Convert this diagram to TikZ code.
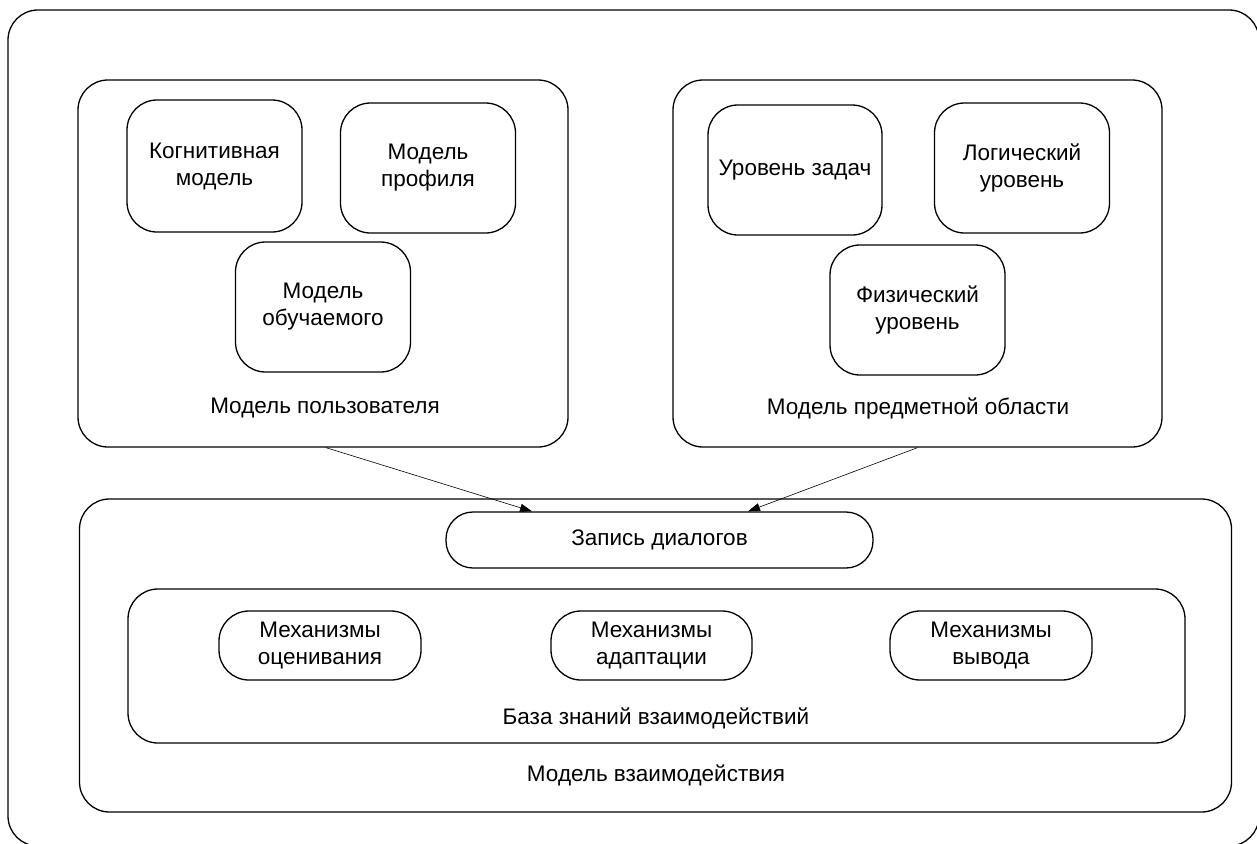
\documentclass[tikz,border=0pt]{standalone}
\usepackage{fontspec}
\setmainfont{Liberation Sans}
\usetikzlibrary{arrows.meta,calc}
\begin{document}
\begin{tikzpicture}[x=1pt,y=-1pt,
  rbox/.style={draw=black, line width=1.3pt, rounded corners=30pt, inner sep=0pt, align=center,
    font=\fontsize{22.5}{27}\selectfont},
  lbl/.style={inner sep=0pt, font=\fontsize{22.5}{27}\selectfont},
  conn/.style={draw=black, line width=0.6pt, -{Triangle[length=12pt,width=8pt]}}]
\clip (0,0) rectangle (1257,843);
\fill[white] (0,0) rectangle (1257,843);
% outer frame
\node[rbox, minimum width=1251pt, minimum height=836pt] (outer) at (633.5,428) {};
% user model
\node[rbox, minimum width=490pt, minimum height=367pt] (um) at (323,263.5) {};
\node[rbox, minimum width=175pt, minimum height=132pt] (kog) at (214.5,166) {Когнитивная\\модель};
\node[rbox, minimum width=175pt, minimum height=130pt] (prof) at (428,168) {Модель\\профиля};
\node[rbox, minimum width=175pt, minimum height=130pt] (obu) at (323,307) {Модель\\обучаемого};
\node[lbl] (uml) at (325,408) {Модель пользователя};
% domain model
\node[rbox, minimum width=489pt, minimum height=367pt] (dm) at (917.5,263.5) {};
\node[rbox, minimum width=174pt, minimum height=130pt] (task) at (795,170) {Уровень задач};
\node[rbox, minimum width=175pt, minimum height=130pt] (logic) at (1022,168) {Логический\\уровень};
\node[rbox, minimum width=175pt, minimum height=130pt] (phys) at (917.5,310) {Физический\\уровень};
\node[lbl] (dml) at (918,408) {Модель предметной области};
% interaction model
\node[rbox, minimum width=1152pt, minimum height=313pt] (im) at (655.5,655.5) {};
\node[rbox, rounded corners=27pt, minimum width=427pt, minimum height=56pt] (zap) at (659.5,540) {Запись диалогов};
\node[rbox, minimum width=1057pt, minimum height=154pt] (kb) at (656.5,666) {};
\node[rbox, rounded corners=30pt, minimum width=202pt, minimum height=69pt] (m1) at (320,645.5) {Механизмы\\оценивания};
\node[rbox, rounded corners=30pt, minimum width=201pt, minimum height=69pt] (m2) at (651.5,645.5) {Механизмы\\адаптации};
\node[rbox, rounded corners=30pt, minimum width=202pt, minimum height=69pt] (m3) at (991,645.5) {Механизмы\\вывода};
\node[lbl] (kbl) at (656,718) {База знаний взаимодействий};
\node[lbl] (iml) at (656,775) {Модель взаимодействия};
% connectors
\draw[conn] ([xshift=3pt]um.south) -- ([xshift=-127.5pt]zap.north);
\draw[conn] (dm.south) -- ([xshift=88.5pt]zap.north);
\end{tikzpicture}
\end{document}
